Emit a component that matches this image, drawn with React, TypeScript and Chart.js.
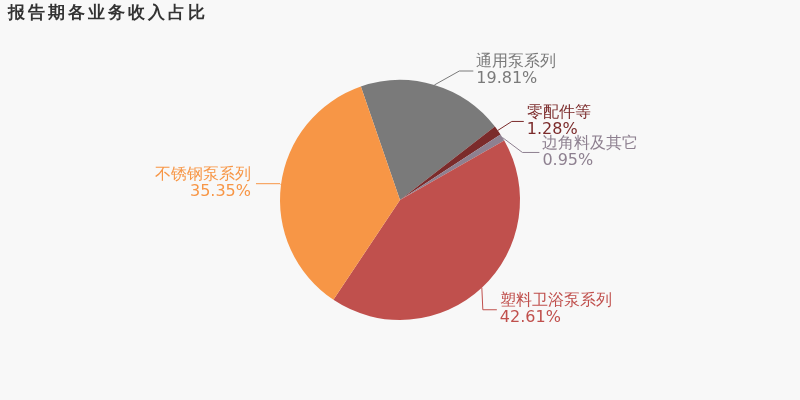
import React, { useEffect, useRef } from "react";
import { Chart, registerables } from "chart.js";

Chart.register(...registerables);

const categories = ["通用泵系列", "零配件等", "边角料及其它", "塑料卫浴泵系列", "不锈钢泵系列"];
const shares = [19.81, 1.28, 0.95, 42.61, 35.35];
const colors = ["#7a7a7a", "#7b2b2b", "#8e8090", "#c0504d", "#f79646"];
const titleText = "报告期各业务收入占比";

// leader line layout: elbow offset from slice edge, horizontal length
const leaderLayout = [
  { dx: 25, dy: -14, h: 14 },
  { dx: 14, dy: -9, h: 12 },
  { dx: 20, dy: 15, h: 17 },
  { dx: 1, dy: 22, h: 14 },
  { dx: -1, dy: -1, h: 24 },
];

const labelPlugin = {
  id: "pieLabels",
  afterDraw(chart: any) {
    const ctx = chart.ctx;
    const meta = chart.getDatasetMeta(0);
    ctx.save();
    // title
    ctx.font = "bold 17px 'DejaVu Sans', sans-serif";
    ctx.fillStyle = "#333333";
    ctx.textAlign = "left";
    ctx.textBaseline = "middle";
    (ctx as any).letterSpacing = "3px";
    ctx.fillText(titleText, 8, 14);
    (ctx as any).letterSpacing = "0px";

    meta.data.forEach((arc: any, i: number) => {
      const { x, y, startAngle, endAngle, outerRadius } = arc.getProps(
        ["x", "y", "startAngle", "endAngle", "outerRadius"],
        true
      );
      const mid = (startAngle + endAngle) / 2;
      const ex = x + Math.cos(mid) * outerRadius;
      const ey = y + Math.sin(mid) * outerRadius;
      const lay = leaderLayout[i];
      const right = Math.cos(mid) >= 0;
      const bx = ex + lay.dx;
      const by = ey + lay.dy;
      const hx = bx + (right ? lay.h : -lay.h);
      ctx.strokeStyle = colors[i];
      ctx.lineWidth = 1;
      ctx.beginPath();
      ctx.moveTo(ex, ey);
      ctx.lineTo(bx, by);
      ctx.lineTo(hx, by);
      ctx.stroke();
      ctx.fillStyle = colors[i];
      ctx.font = "16px 'DejaVu Sans', sans-serif";
      ctx.textAlign = right ? "left" : "right";
      ctx.textBaseline = "middle";
      const tx = hx + (right ? 3 : -5);
      ctx.fillText(categories[i], tx, by - 9);
      ctx.fillText(shares[i].toFixed(2) + "%", tx, by + 8);
    });
    ctx.restore();
  },
};

const bgPlugin = {
  id: "bg",
  beforeDraw(chart: any) {
    const ctx = chart.ctx;
    ctx.save();
    ctx.fillStyle = "#f8f8f8";
    ctx.fillRect(0, 0, chart.width, chart.height);
    ctx.restore();
  },
};

export default function App() {
  const ref = useRef<HTMLCanvasElement>(null);
  useEffect(() => {
    if (!ref.current) return;
    const chart = new Chart(ref.current, {
      type: "pie",
      data: {
        labels: categories,
        datasets: [
          {
            data: shares,
            backgroundColor: colors,
            borderWidth: 0,
          },
        ],
      },
      options: {
        animation: false,
        responsive: false,
        rotation: -19.04,
        layout: { padding: { top: 80, bottom: 80, left: 0, right: 0 } },
        plugins: {
          legend: { display: false },
          tooltip: { enabled: false },
          title: { display: false },
        },
      },
      plugins: [bgPlugin, labelPlugin],
    });
    return () => chart.destroy();
  }, []);
  return (
    <div style={{ position: "absolute", left: 0, top: 0, width: 800, height: 400 }}>
      <canvas ref={ref} width={800} height={400} style={{ width: 800, height: 400 }} />
    </div>
  );
}
